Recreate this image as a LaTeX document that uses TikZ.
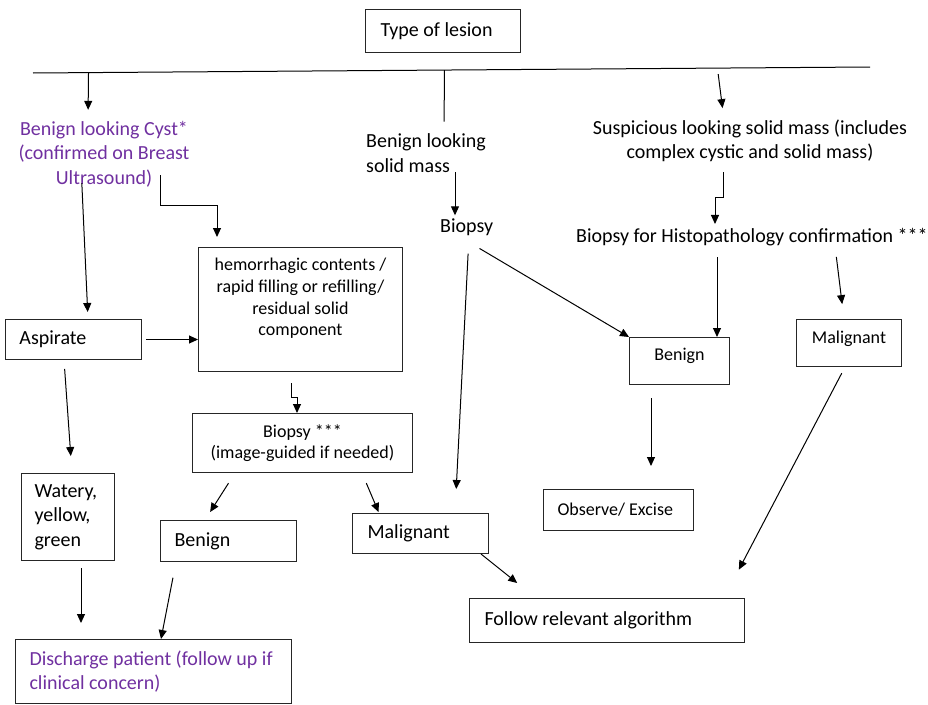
\documentclass[tikz,border=0pt]{standalone}
\usepackage{fontspec}
\setmainfont{Carlito}
\usetikzlibrary{arrows.meta,calc}
\definecolor{cystpurple}{HTML}{7030A0}
\newcommand\mainsize{\fontsize{20}{24.5}\selectfont}
\newcommand\smallsize{\fontsize{18}{21.7}\selectfont}

\tikzset{
    box/.style={draw=black!85, line width=1pt, inner ysep=0pt, anchor=north west},
    lbl/.style={inner sep=0pt},
    arr/.style={line width=1pt, -{Triangle[length=9pt,width=8pt]}},
    link/.style={line width=1pt}
}

\begin{document}
\begin{tikzpicture}[x=1pt, y=-1pt, font=\mainsize]
    \useasboundingbox (0,0) rectangle (928,704);

    % Top box and the dividing rule
    \node[box, text width=125pt, inner xsep=15pt, minimum height=43pt, align=flush left] (lesion) at (365,9) {Type of lesion};
    \coordinate (barL) at (33,73);
    \coordinate (barR) at (870,67);
    \draw[link] (barL) -- (barR);

    % The three kinds of lesion
    \node[lbl, align=center, text=cystpurple] (cyst) at (104,154) {Benign looking Cyst*\\(confirmed on Breast\\Ultrasound)};
    \node[lbl, align=left, anchor=west] (bsolid) at (366,153) {Benign looking\\solid mass};
    \node[lbl, align=center] (susp) at (750,141) {Suspicious looking solid mass (includes\\complex cystic and solid mass)};

    % Cyst branch
    \node[box, text width=108pt, inner xsep=14pt, minimum height=40pt, align=flush left] (aspirate) at (5,319) {Aspirate};
    \node[box, text width=192pt, inner xsep=6pt, minimum height=124pt, align=flush center, font=\smallsize, text depth=90pt] (hem) at (198,247) {hemorrhagic contents /\\rapid filling or refilling/\\residual solid\\component};
    \node[box, text width=67pt, inner xsep=13pt, minimum height=87pt, align=flush left] (watery) at (21,473) {Watery,\\yellow,\\green};
    \node[box, text width=248pt, inner xsep=14pt, minimum height=64pt, align=flush left, text=cystpurple] (discharge) at (15,639) {Discharge patient (follow up if\\clinical concern)};
    \node[box, text width=208pt, inner xsep=6pt, minimum height=59pt, align=flush center, font=\smallsize] (biopsy) at (192,413) {Biopsy ***\\(image-guided if needed)};
    \node[box, text width=108pt, inner xsep=14pt, minimum height=41pt, align=flush left] (benignL) at (160,520) {Benign};
    \node[box, text width=106pt, inner xsep=15pt, minimum height=40pt, align=flush left] (malignL) at (352,513) {Malignant};

    % Solid mass branches
    \node[lbl, anchor=west] (biopsyM) at (440,227) {Biopsy};
    \node[lbl, anchor=west] (histo) at (576,237) {Biopsy for Histopathology confirmation ***};
    \node[box, text width=88pt, inner xsep=6pt, minimum height=47pt, align=flush center, font=\smallsize, text depth=12.5pt] (benignR) at (629,337) {Benign};
    \node[box, text width=93pt, inner xsep=6pt, minimum height=47pt, align=flush center, font=\smallsize, text depth=12.5pt] (malignR) at (796,319) {Malignant};
    \node[box, text width=122pt, inner xsep=14pt, minimum height=41pt, align=flush left, font=\smallsize] (observe) at (543,489) {Observe/ Excise};
    \node[box, text width=245pt, inner xsep=15pt, minimum height=44pt, align=flush left] (follow) at (469,598) {Follow relevant algorithm};

    % Rule down to the three kinds
    \draw[arr, shorten >=11pt] ($(barL)!(88,0)!(barR)$) -- (88,0 |- cyst.north);
    \draw[link, shorten >=12pt] ($(barL)!(444,0)!(barR)$) -- (444,0 |- bsolid.north);
    \draw[arr, shorten <=6pt, shorten >=11.6pt] ($(barL)!(717,0)!(barR)$) -- (724,0 |- susp.north);

    % Cyst: aspirate and its results
    \draw[arr, shorten <=-4pt, shorten >=7pt] (82,0 |- cyst.south) -- (88,0 |- aspirate.north);
    \draw[arr, shorten <=-12pt, shorten >=10pt] (160,0 |- cyst.south) -- ++(0,18) -| (217,0 |- hem.north);
    \draw[arr, shorten <=4pt] (aspirate.east) -- (hem.west |- aspirate.east);
    \draw[arr, shorten <=9pt, shorten >=17pt] (64,0 |- aspirate.south) -- (72,0 |- watery.north);
    \draw[arr, shorten <=7pt, shorten >=16pt] (81,0 |- watery.south) -- (81,0 |- discharge.north);
    \draw[arr, shorten <=11pt] (291,0 |- hem.south) -- ++(0,25) -| (297,0 |- biopsy.north);
    \draw[arr, shorten <=12pt, shorten >=9.5pt] (235,0 |- biopsy.south) -- (205,0 |- benignL.north);
    \draw[arr, shorten <=11pt, shorten >=1pt] (362,0 |- biopsy.south) -- (379,0 |- malignL.north);
    \draw[arr, shorten <=16pt] (176,0 |- benignL.south) -- (161,0 |- discharge.north);
    \draw[arr, shorten >=24pt] (481,0 |- malignL.south) -- (536,0 |- follow.north);

    % Solid masses: biopsy and its results
    \draw[arr, shorten >=3pt] (455,0 |- bsolid.south) -- (455,0 |- biopsyM.north);
    \draw[arr, shorten <=18pt, shorten >=24pt] (469,0 |- biopsyM.south) -- (455,0 |- malignL.north);
    \draw[arr, shorten <=25pt] (458,0 |- biopsyM.south) -- (benignR.north west);
    \draw[arr, shorten <=10pt, shorten >=4pt] (723,0 |- susp.south) -- ++(0,35) -| (715,0 |- histo.north);
    \draw[arr, shorten <=11pt] (717,0 |- histo.south) -- (717,0 |- benignR.north);
    \draw[arr, shorten <=11pt, shorten >=15pt] (835,0 |- histo.south) -- (844,0 |- malignR.north);
    \draw[arr, shorten <=13pt, shorten >=23pt] (651,0 |- benignR.south) -- (651,0 |- observe.north);
    \draw[arr, shorten <=7pt, shorten >=32pt] (845,0 |- malignR.south) -- (724,0 |- follow.north);

\end{tikzpicture}
\end{document}
